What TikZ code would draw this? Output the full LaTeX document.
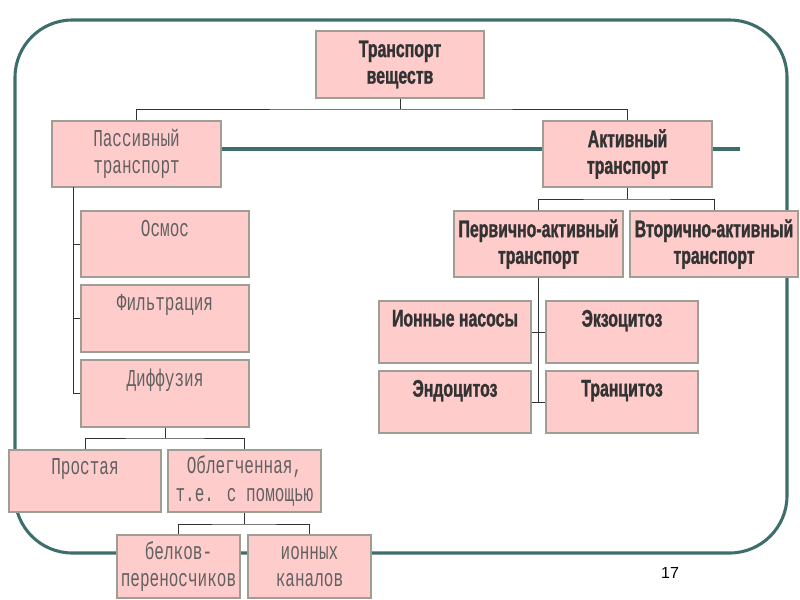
\documentclass[tikz,border=0pt]{standalone}
\usepackage{fontspec}
\setmainfont{Liberation Sans}
\newfontfamily\narrowbf[FakeStretch=0.66,FakeBold=1.2]{Liberation Sans}
\newfontfamily\typefont[FakeStretch=0.66]{Liberation Mono}
\definecolor{boxfill}{RGB}{255,204,204}
\definecolor{boxline}{RGB}{158,158,148}
\definecolor{frameteal}{RGB}{62,110,108}
\definecolor{txtgray}{RGB}{51,51,51}
\begin{document}
\begin{tikzpicture}[x=0.75pt,y=-0.75pt,
  box/.style 2 args={draw=boxline,line width=1pt,fill=boxfill,
    minimum width=#1*0.75pt,minimum height=#2*0.75pt,inner sep=0pt,align=center},
  boldtxt/.style={font={\narrowbf\bfseries\fontsize{18}{20}\selectfont},text=txtgray},
  monotxt/.style={font={\typefont\fontsize{18.2}{20.5}\selectfont},text=black!62},
  toplbl/.style 2 args={label={[anchor=north,inner sep=0pt,label distance=-7pt,#1]north:#2}},
  conn/.style={draw=black!80,line width=0.75pt}]
  \useasboundingbox (0,0) rectangle (800,600);
  % рамка
  \draw[frameteal,line width=2.3pt,rounded corners=43pt] (15,20) rectangle (787,553);
  \draw[frameteal,line width=2.3pt] (140,149) -- (740,149);

  % верх
  \node[box={168}{67},boldtxt] (veshch) at (400,64.5) {Транспорт\\веществ};
  \node[box={169}{66},monotxt] (pass) at (136.5,154) {Пассивный\\транспорт};
  \node[box={169}{66},boldtxt] (aktiv) at (627.5,154) {Активный\\транспорт};

  % пассивный транспорт
  \node[box={168}{66},toplbl={monotxt}{Осмос}] (osmos) at (165,244) {};
  \node[box={168}{67},toplbl={monotxt}{Фильтрация}] (filtr) at (165,318.5) {};
  \node[box={168}{67},toplbl={monotxt}{Диффузия}] (diff) at (165,393.5) {};
  \node[box={152}{62},toplbl={monotxt}{Простая}] (prost) at (85,481) {};
  \node[box={153}{62},monotxt] (obleg) at (244.5,481) {Облегченная,\\т.е. с помощью};
  \node[box={123}{63},monotxt] (belk) at (178.5,566.5) {белков-\\переносчиков};
  \node[box={123}{63},monotxt] (ionk) at (309.5,566.5) {ионных\\каналов};

  % активный транспорт
  \node[box={169}{66},boldtxt] (perv) at (538.5,244) {Первично-активный\\транспорт};
  \node[box={168}{66},boldtxt] (vtor) at (714,244) {Вторично-активный\\транспорт};
  \node[box={152}{62},toplbl={boldtxt}{Ионные насосы}] (nasos) at (455,332) {};
  \node[box={152}{62},toplbl={boldtxt}{Экзоцитоз}] (ekzo) at (622,332) {};
  \node[box={152}{62},toplbl={boldtxt}{Эндоцитоз}] (endo) at (455,402) {};
  \node[box={152}{62},toplbl={boldtxt}{Транцитоз}] (tranc) at (622,402) {};

  \node[font={\fontsize{12}{14}\selectfont}] (nomer) at (670,572.5) {17};

  % связи
  \coordinate (vj) at (400,109);
  \draw[conn] (veshch.south) -- (vj);
  \draw[conn] (pass.north) |- (vj) -| (aktiv.north);
  \coordinate (aj) at (627.5,199);
  \draw[conn] (aktiv.south) -- (aj);
  \draw[conn] (perv.north) |- (aj) -| (vtor.north);
  \coordinate (ptrunk) at (73,187);
  \draw[conn] (ptrunk) |- (diff.west);
  \draw[conn] (osmos.west) -- (osmos.west -| ptrunk);
  \draw[conn] (filtr.west) -- (filtr.west -| ptrunk);
  \coordinate (dj) at (165,438);
  \draw[conn] (diff.south) -- (dj);
  \draw[conn] (prost.north) |- (dj) -| (obleg.north);
  \coordinate (oj) at (244.5,524);
  \draw[conn] (obleg.south) -- (oj);
  \draw[conn] (belk.north) |- (oj) -| (ionk.north);
  \draw[conn] (perv.south) -- (perv.south |- endo.east);
  \draw[conn] (nasos.east) -- (ekzo.west);
  \draw[conn] (endo.east) -- (tranc.west);
\end{tikzpicture}
\end{document}
